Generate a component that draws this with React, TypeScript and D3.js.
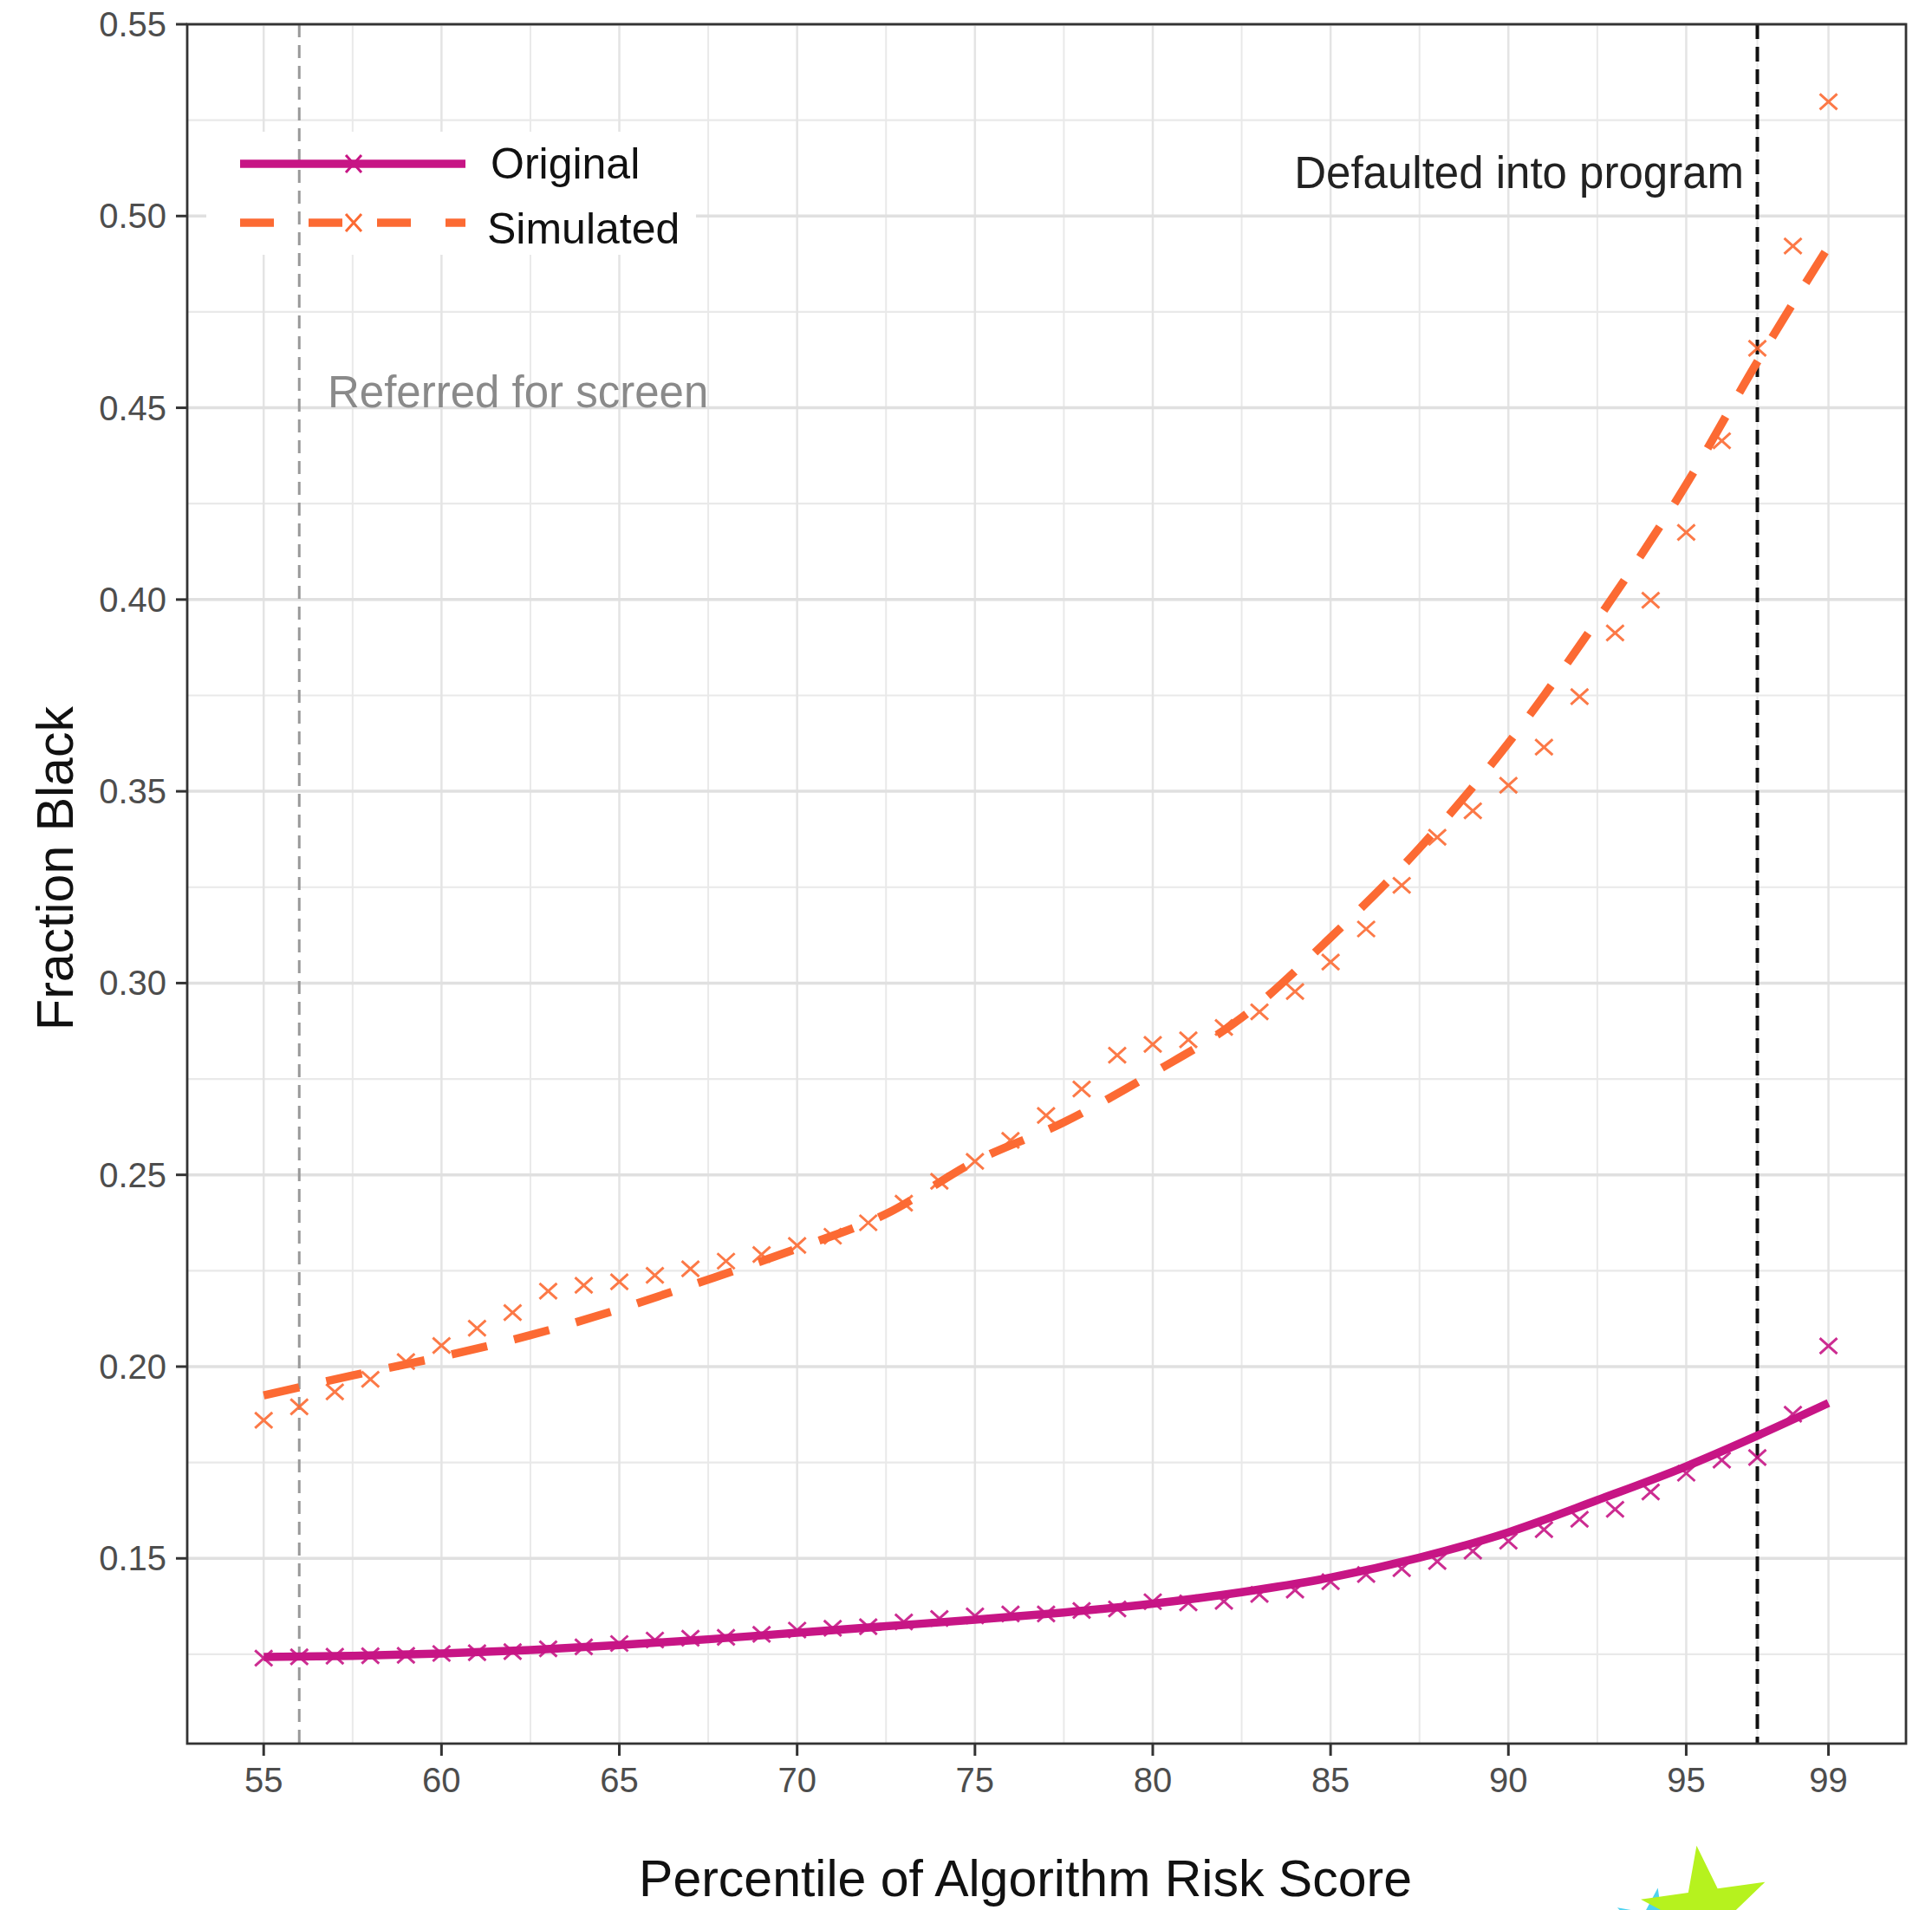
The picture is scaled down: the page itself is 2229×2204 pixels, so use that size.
import React, { useEffect, useRef } from 'react';
import * as d3 from 'd3';

// percentile bins (x) and the observed fraction black per bin
const percentiles = [
  55, 56, 57, 58, 59, 60, 61, 62, 63, 64, 65, 66, 67, 68, 69, 70, 71, 72, 73, 74, 75, 76,
  77, 78, 79, 80, 81, 82, 83, 84, 85, 86, 87, 88, 89, 90, 91, 92, 93, 94, 95, 96, 97, 98, 99,
];
const originalPoints = [
  0.124, 0.1243, 0.1245, 0.1246, 0.1247, 0.1252, 0.1254, 0.1257, 0.1264, 0.1269, 0.1278,
  0.1287, 0.1292, 0.1294, 0.1302, 0.1313, 0.1318, 0.1322, 0.1334, 0.1343, 0.135, 0.1355,
  0.1355, 0.1364, 0.1368, 0.1387, 0.1384, 0.1388, 0.1406, 0.1417, 0.1439, 0.1458, 0.1473,
  0.1492, 0.1519, 0.1545, 0.1575, 0.1602, 0.1628, 0.1673, 0.1722, 0.1756, 0.1763, 0.1876,
  0.2054,
];
const simulatedPoints = [
  0.186, 0.1895, 0.1934, 0.1967, 0.2013, 0.2055, 0.21, 0.2141, 0.2197, 0.2212, 0.2221,
  0.2238, 0.2255, 0.2275, 0.2292, 0.2316, 0.234, 0.2375, 0.2426, 0.2483, 0.2535, 0.259,
  0.2655, 0.2724, 0.2812, 0.284, 0.2852, 0.2884, 0.2925, 0.2978, 0.3055, 0.3141, 0.3255,
  0.338, 0.3449, 0.3516, 0.3615, 0.3747, 0.3913, 0.3998, 0.4175, 0.4414, 0.4655, 0.4922,
  0.5298,
];

// smoothed fit lines
const fitX = [55, 57.5, 60, 62.5, 65, 67.5, 70, 72.5, 75, 77.5, 80, 82.5, 85, 87.5, 90, 92.5, 95, 97, 99];
const originalFit = [
  0.1243, 0.1246, 0.1252, 0.1261, 0.1274, 0.1289, 0.1306, 0.1323, 0.134, 0.1359, 0.1382,
  0.1412, 0.145, 0.1502, 0.1568, 0.1652, 0.174, 0.182, 0.1905,
];
const simulatedFit = [
  0.1925, 0.1977, 0.2026, 0.2082, 0.215, 0.2227, 0.2308, 0.2398, 0.2535, 0.2637, 0.2765,
  0.291, 0.3119, 0.3352, 0.3626, 0.3947, 0.43, 0.462, 0.492,
];

const xTicks = [55, 60, 65, 70, 75, 80, 85, 90, 95, 99];
const xMinor = [57.5, 62.5, 67.5, 72.5, 77.5, 82.5, 87.5, 92.5, 97];
const yTicks = [0.15, 0.2, 0.25, 0.3, 0.35, 0.4, 0.45, 0.5, 0.55];
const yMinor = [0.125, 0.175, 0.225, 0.275, 0.325, 0.375, 0.425, 0.475, 0.525];

const referredCutoff = 56;
const defaultedCutoff = 97;

const series = [
  { name: 'Original', points: originalPoints, fit: originalFit, color: '#C71585', dash: null },
  { name: 'Simulated', points: simulatedPoints, fit: simulatedFit, color: '#FC6A33', dash: '42 32' },
];

const W = 2229;
const H = 2204;
const FONT = '"Liberation Sans", Arial, Helvetica, sans-serif';

const App: React.FC = () => {
  const svgRef = useRef<SVGSVGElement>(null);

  useEffect(() => {
    if (!svgRef.current) return;
    document.body.style.margin = '0';
    const svg = d3.select(svgRef.current);
    svg.selectAll('*').remove();

    const left = 216, right = 2199, top = 28, bottom = 2012;

    const x = d3.scaleLinear().domain([52.85, 101.18]).range([left, right]);
    const y = d3.scaleLinear().domain([0.1017, 0.55]).range([bottom, top]);

    svg.append('rect').attr('width', W).attr('height', H).attr('fill', '#fff');

    const grid = svg.append('g');
    // minor grid
    grid.selectAll('.vmin').data(xMinor).enter().append('line')
      .attr('x1', d => x(d)).attr('x2', d => x(d)).attr('y1', top).attr('y2', bottom)
      .attr('stroke', '#e9e9e9').attr('stroke-width', 2);
    grid.selectAll('.hmin').data(yMinor).enter().append('line')
      .attr('x1', left).attr('x2', right).attr('y1', d => y(d)).attr('y2', d => y(d))
      .attr('stroke', '#e9e9e9').attr('stroke-width', 2.2);
    // major grid
    grid.selectAll('.vmaj').data(xTicks).enter().append('line')
      .attr('x1', d => x(d)).attr('x2', d => x(d)).attr('y1', top).attr('y2', bottom)
      .attr('stroke', '#e4e4e4').attr('stroke-width', 2.5);
    grid.selectAll('.hmaj').data(yTicks).enter().append('line')
      .attr('x1', left).attr('x2', right).attr('y1', d => y(d)).attr('y2', d => y(d))
      .attr('stroke', '#e0e0e0').attr('stroke-width', 3.5);

    // legend box hides grid
    svg.append('rect')
      .attr('x', 238).attr('y', 152).attr('width', 565).attr('height', 142)
      .attr('fill', '#fff');

    // cutoff lines
    svg.append('line')
      .attr('x1', x(referredCutoff)).attr('x2', x(referredCutoff))
      .attr('y1', top).attr('y2', bottom)
      .attr('stroke', '#999').attr('stroke-width', 3).attr('stroke-dasharray', '15 9');
    svg.append('line')
      .attr('x1', x(defaultedCutoff)).attr('x2', x(defaultedCutoff))
      .attr('y1', top).attr('y2', bottom)
      .attr('stroke', '#111').attr('stroke-width', 4).attr('stroke-dasharray', '17 9');

    svg.append('text')
      .attr('x', 378).attr('y', 452)
      .attr('dominant-baseline', 'central')
      .style('font-family', FONT).style('font-size', '51px').style('fill', '#8a8a8a')
      .text('Referred for screen');
    svg.append('text')
      .attr('x', 2012).attr('y', 199)
      .attr('text-anchor', 'end').attr('dominant-baseline', 'central')
      .style('font-family', FONT).style('font-size', '51px').style('fill', '#222')
      .text('Defaulted into program');

    const cross = (dx: number, dy: number) =>
      `M${-dx},${-dy}L${dx},${dy}M${-dx},${dy}L${dx},${-dy}`;

    const line = d3.line<number>()
      .x((_, i) => x(fitX[i]))
      .y(d => y(d))
      .curve(d3.curveMonotoneX);

    series.forEach(s => {
      svg.append('g').selectAll('path').data(s.points).enter().append('path')
        .attr('transform', (d, i) => `translate(${x(percentiles[i])},${y(d)})`)
        .attr('d', cross(10, 9))
        .attr('fill', 'none').attr('stroke', s.color).attr('stroke-width', 3)
        .attr('opacity', 0.9);

      const p = svg.append('path')
        .datum(s.fit)
        .attr('d', line)
        .attr('fill', 'none').attr('stroke', s.color).attr('stroke-width', 9.5);
      if (s.dash) p.attr('stroke-dasharray', s.dash);
    });

    // panel border
    svg.append('rect')
      .attr('x', left).attr('y', top).attr('width', right - left).attr('height', bottom - top)
      .attr('fill', 'none').attr('stroke', '#333').attr('stroke-width', 2.8);

    // axes ticks + labels
    const yAxis = svg.append('g');
    yTicks.forEach(t => {
      yAxis.append('line').attr('x1', left - 13).attr('x2', left).attr('y1', y(t)).attr('y2', y(t))
        .attr('stroke', '#333').attr('stroke-width', 3);
      yAxis.append('text').attr('x', left - 24).attr('y', y(t))
        .attr('text-anchor', 'end').attr('dominant-baseline', 'central')
        .style('font-family', FONT).style('font-size', '40px').style('fill', '#4d4d4d')
        .text(d3.format('.2f')(t));
    });
    const xAxis = svg.append('g');
    xTicks.forEach(t => {
      xAxis.append('line').attr('x1', x(t)).attr('x2', x(t)).attr('y1', bottom).attr('y2', bottom + 14)
        .attr('stroke', '#333').attr('stroke-width', 3);
      xAxis.append('text').attr('x', x(t)).attr('y', bottom + 42)
        .attr('text-anchor', 'middle').attr('dominant-baseline', 'central')
        .style('font-family', FONT).style('font-size', '40px').style('fill', '#4d4d4d')
        .text(String(t));
    });

    svg.append('text')
      .attr('x', 1183).attr('y', 2168)
      .attr('text-anchor', 'middle').attr('dominant-baseline', 'central')
      .style('font-family', FONT).style('font-size', '59px').style('fill', '#111')
      .text('Percentile of Algorithm Risk Score');
    svg.append('text')
      .attr('transform', 'translate(64,1002) rotate(-90)')
      .attr('text-anchor', 'middle').attr('dominant-baseline', 'central')
      .style('font-family', FONT).style('font-size', '59px').style('fill', '#111')
      .text('Fraction Black');

    // legend
    const legendRows = [189, 257];
    series.forEach((s, i) => {
      const ly = legendRows[i];
      const l = svg.append('line')
        .attr('x1', 277).attr('x2', 537).attr('y1', ly).attr('y2', ly)
        .attr('stroke', s.color).attr('stroke-width', 9.5);
      if (s.dash) l.attr('stroke-dasharray', '39 40');
      svg.append('path')
        .attr('transform', `translate(408,${ly})`)
        .attr('d', cross(9, 10))
        .attr('fill', 'none').attr('stroke', s.color).attr('stroke-width', 3);
      svg.append('text')
        .attr('x', i === 0 ? 566 : 562).attr('y', ly + (i === 0 ? 0 : 7))
        .attr('dominant-baseline', 'central')
        .style('font-family', FONT).style('font-size', '50px').style('fill', '#111')
        .text(s.name);
    });

    // watermark fragment at bottom right
    svg.append('path')
      .attr('transform', 'translate(1905,2222) rotate(10)')
      .attr('d', d3.symbol(d3.symbolStar, 2200)())
      .attr('fill', '#4fd3f0');
    svg.append('path')
      .attr('transform', 'translate(1968,2205) rotate(-8)')
      .attr('d', d3.symbol(d3.symbolStar, 6500)())
      .attr('fill', '#b6f21e');
  }, []);

  return (
    <svg ref={svgRef} width={W} height={H}
      style={{ position: 'absolute', left: 0, top: 0, display: 'block' }} />
  );
};

export default App;
